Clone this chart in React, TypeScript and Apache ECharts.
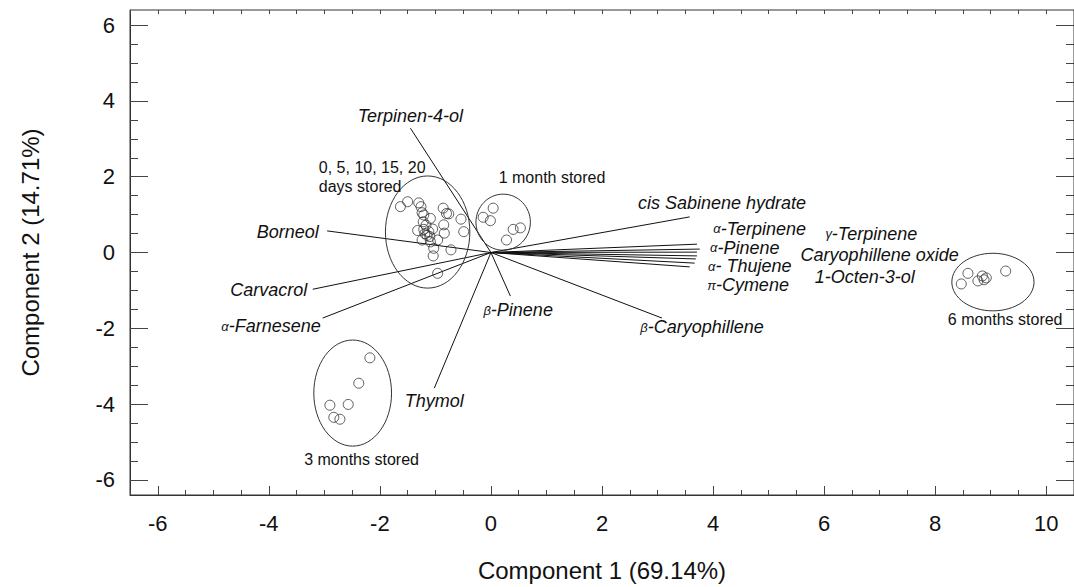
import React, { useEffect, useRef } from "react";
import * as echarts from "echarts";

// Sample scores (Component 1, Component 2) by storage time
const days0to20: number[][] = [
  [-1.63, 1.21], [-1.5, 1.34], [-1.3, 1.31], [-1.26, 1.21], [-1.24, 1.05],
  [-1.21, 0.99], [-1.09, 0.9], [-1.22, 0.81], [-1.32, 0.58], [-1.21, 0.61],
  [-1.12, 0.55], [-1.1, 0.42], [-1.24, 0.33], [-1.09, 0.28], [-1.03, 0.11],
  [-1.04, -0.09], [-0.96, 0.33], [-0.84, 0.51], [-0.85, 0.73], [-0.86, 1.17],
  [-0.8, 1.03], [-0.76, 1.02], [-0.54, 0.88], [-0.49, 0.55], [-0.72, 0.07],
  [-0.96, -0.55], [-1.17, 0.72], [-1.15, 0.45], [-1.05, 0.62], [-1.19, 0.5],
];
const month1: number[][] = [
  [-0.14, 0.93], [-0.01, 0.84], [0.04, 1.17], [0.4, 0.61], [0.53, 0.65], [0.28, 0.33],
];
const months3: number[][] = [
  [-2.18, -2.78], [-2.38, -3.45], [-2.57, -4.01], [-2.9, -4.03], [-2.83, -4.35], [-2.72, -4.4],
];
const months6: number[][] = [
  [8.47, -0.83], [8.59, -0.55], [8.77, -0.75], [8.85, -0.62], [8.92, -0.67], [8.88, -0.72], [9.27, -0.49],
];

// Group outlines: centre x, centre y, radius x, radius y (data units)
const groupEllipses: number[][] = [
  [-1.14, 0.54, 0.76, 1.48],
  [0.22, 0.8, 0.49, 0.74],
  [-2.49, -3.71, 0.7, 1.4],
  [9.04, -0.78, 0.74, 0.76],
];
const groupNames = ["0, 5, 10, 15, 20\ndays stored", "1 month stored", "3 months stored", "6 months stored"];
const groupLabelX = [-3.1, 1.1, -2.33, 9.26];
const groupLabelY = [1.98, 1.97, -5.45, -1.78];
const groupLabelAlign = ["left", "center", "center", "center"];

// Variable loadings (vector tips) and where their names sit
const variables = [
  "Terpinen-4-ol", "Borneol", "Carvacrol", "{g|α}-Farnesene", "Thymol", "{g|β}-Pinene",
  "{g|β}-Caryophillene", "cis Sabinene hydrate", "{g|α}-Terpinene", "{g|α}-Pinene",
  "{g|γ}-Terpinene", "Caryophillene oxide", "{g|α}- Thujene", "1-Octen-3-ol", "{g|π}-Cymene",
];
const loadX = [-1.45, -2.95, -3.21, -3.03, -1.02, 0.35, 3.08, 3.58, 3.71, 3.76, 3.71, 3.71, 3.69, 3.67, 3.58];
const loadY = [3.28, 0.57, -0.97, -1.73, -3.58, -1.15, -1.73, 0.94, 0.22, 0.09, 0.01, -0.09, -0.17, -0.28, -0.38];
const nameX = [-1.45, -3.66, -4.0, -3.96, -1.02, 0.49, 3.8, 4.16, 4.84, 4.57, 6.85, 7.0, 4.66, 6.73, 4.63];
const nameY = [3.6, 0.54, -0.99, -1.94, -3.92, -1.52, -1.97, 1.31, 0.63, 0.13, 0.49, -0.07, -0.36, -0.65, -0.86];

const xMajor = [-6, -4, -2, 0, 2, 4, 6, 8, 10];
const yMajor = [-6, -4, -2, 0, 2, 4, 6];

const halfSteps = (from: number, to: number) => {
  const out: number[] = [];
  for (let v = from; v <= to + 1e-9; v += 0.5) out.push(Math.round(v * 10) / 10);
  return out;
};

const FONT = 'Arial, "Liberation Sans", sans-serif';
const X_MIN = -6.5, X_MAX = 10.5, Y_MIN = -6.4, Y_MAX = 6.4;

export default function App() {
  const ref = useRef<HTMLDivElement>(null);

  useEffect(() => {
    if (!ref.current) return;
    const chart = echarts.init(ref.current, undefined, { renderer: "svg" });
    const xMinor = halfSteps(-6.5, 10.5);
    const yMinor = halfSteps(-6, 6);

    const baseX = { type: "value", min: X_MIN, max: X_MAX, splitLine: { show: false } };
    const baseY = { type: "value", min: Y_MIN, max: Y_MAX, splitLine: { show: false } };
    const tickStyle = { color: "#444", width: 1 };
    const hiddenLine = { show: false, onZero: false };

    const pointSeries = (data: number[][]) => ({
      type: "scatter",
      data,
      symbol: "circle",
      symbolSize: 10,
      itemStyle: { color: "rgba(255,255,255,0)", borderColor: "#222", borderWidth: 0.9 },
      z: 4,
    });

    chart.setOption({
      animation: false,
      backgroundColor: "#fff",
      grid: { left: 130, right: -4, top: 10, bottom: 92, show: true, borderColor: "#333", borderWidth: 1 },
      xAxis: [
        {
          ...baseX,
          position: "bottom",
          name: "Component 1 (69.14%)",
          nameLocation: "middle",
          nameGap: 63,
          nameTextStyle: { fontFamily: FONT, fontSize: 24, color: "#111" },
          axisLine: { show: true, onZero: false, lineStyle: { color: "#333" } },
          axisTick: { show: true, inside: true, length: 9, customValues: xMajor, lineStyle: tickStyle },
          axisLabel: { customValues: xMajor, margin: 17, fontFamily: FONT, fontSize: 22, color: "#111" },
        },
        {
          ...baseX,
          position: "bottom",
          axisLine: hiddenLine,
          axisTick: { show: true, inside: true, length: 5, customValues: xMinor, lineStyle: tickStyle },
          axisLabel: { show: false },
        },
        {
          ...baseX,
          position: "top",
          axisLine: hiddenLine,
          axisTick: { show: true, inside: true, length: 4, customValues: xMinor, lineStyle: tickStyle },
          axisLabel: { show: false },
        },
      ],
      yAxis: [
        {
          ...baseY,
          position: "left",
          name: "Component 2 (14.71%)",
          nameLocation: "middle",
          nameGap: 88,
          nameTextStyle: { fontFamily: FONT, fontSize: 24, color: "#111" },
          axisLine: { show: true, onZero: false, lineStyle: { color: "#333" } },
          axisTick: { show: true, inside: true, length: 18, customValues: yMajor, lineStyle: tickStyle },
          axisLabel: { customValues: yMajor, margin: 15, fontFamily: FONT, fontSize: 22, color: "#111" },
        },
        {
          ...baseY,
          position: "left",
          axisLine: hiddenLine,
          axisTick: { show: true, inside: true, length: 8, customValues: yMinor, lineStyle: tickStyle },
          axisLabel: { show: false },
        },
        {
          ...baseY,
          position: "right",
          axisLine: hiddenLine,
          axisTick: { show: true, inside: true, length: 18, customValues: yMajor, lineStyle: tickStyle },
          axisLabel: { show: false },
        },
        {
          ...baseY,
          position: "right",
          axisLine: hiddenLine,
          axisTick: { show: true, inside: true, length: 8, customValues: yMinor, lineStyle: tickStyle },
          axisLabel: { show: false },
        },
      ],
      series: [
        {
          // loading vectors from the origin
          type: "custom",
          data: loadX.map((x, i) => [x, loadY[i]]),
          renderItem: (_p: any, api: any) => {
            const o = api.coord([0, 0]);
            const e = api.coord([api.value(0), api.value(1)]);
            return {
              type: "line",
              shape: { x1: o[0], y1: o[1], x2: e[0], y2: e[1] },
              style: { stroke: "#111", lineWidth: 1 },
            };
          },
          z: 2,
        },
        {
          // variable names
          type: "custom",
          data: nameX.map((x, i) => [x, nameY[i]]),
          renderItem: (p: any, api: any) => {
            const c = api.coord([api.value(0), api.value(1)]);
            return {
              type: "text",
              x: c[0],
              y: c[1],
              style: {
                text: variables[p.dataIndex],
                align: "center",
                verticalAlign: "middle",
                fontFamily: FONT,
                fontSize: 18,
                lineHeight: 16,
                fontStyle: "italic",
                fill: "#111",
                rich: {
                  g: { fontSize: 13, lineHeight: 16, fontStyle: "italic", fontFamily: FONT, fill: "#111" },
                },
              },
            };
          },
          z: 3,
        },
        {
          // group outlines
          type: "custom",
          data: groupEllipses,
          renderItem: (_p: any, api: any) => {
            const c = api.coord([api.value(0), api.value(1)]);
            const s = api.size([api.value(2), api.value(3)]);
            return {
              type: "ellipse",
              shape: { cx: c[0], cy: c[1], rx: s[0], ry: s[1] },
              style: { fill: "none", stroke: "#333", lineWidth: 1 },
            };
          },
          z: 3,
        },
        {
          // group names
          type: "custom",
          data: groupLabelX.map((x, i) => [x, groupLabelY[i]]),
          renderItem: (p: any, api: any) => {
            const c = api.coord([api.value(0), api.value(1)]);
            return {
              type: "text",
              x: c[0],
              y: c[1],
              style: {
                text: groupNames[p.dataIndex],
                align: groupLabelAlign[p.dataIndex],
                verticalAlign: "middle",
                fontFamily: FONT,
                fontSize: 16,
                lineHeight: 19,
                fill: "#111",
              },
            };
          },
          z: 3,
        },
        pointSeries(days0to20),
        pointSeries(month1),
        pointSeries(months3),
        pointSeries(months6),
      ],
    });
    return () => chart.dispose();
  }, []);

  return (
    <div
      ref={ref}
      style={{ position: "absolute", left: 0, top: 0, width: 1074, height: 587, overflow: "hidden" }}
    />
  );
}
